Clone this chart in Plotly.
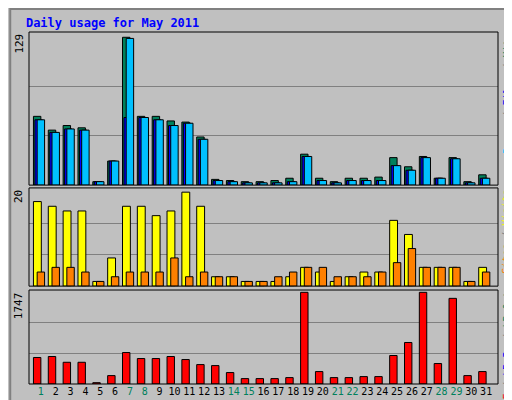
import plotly.graph_objects as go

days = list(range(1, 32))
weekend = [1, 7, 8, 14, 15, 21, 22, 28, 29]

hits = [60, 48, 52, 50, 3, 21, 129, 60, 60, 56, 55, 42, 5, 4, 3, 3, 4, 6, 27, 6, 3, 6, 6, 7, 24, 16, 25, 6, 24, 3, 9]
files = [57, 46, 49, 48, 3, 21, 59, 59, 57, 52, 54, 40, 4, 3, 2, 2, 2, 3, 25, 4, 2, 4, 4, 4, 17, 13, 24, 6, 23, 2, 6]
pages = [57, 46, 49, 48, 3, 21, 128, 59, 57, 52, 54, 40, 4, 3, 2, 2, 2, 3, 25, 4, 2, 4, 4, 4, 17, 13, 24, 6, 23, 2, 6]
visits = [18, 17, 16, 16, 1, 6, 17, 17, 15, 16, 20, 17, 2, 2, 1, 1, 1, 2, 4, 3, 1, 2, 3, 3, 14, 11, 4, 4, 4, 1, 4]
sites = [3, 4, 4, 3, 1, 2, 3, 3, 3, 6, 2, 3, 2, 2, 1, 1, 2, 3, 4, 4, 2, 2, 2, 3, 5, 8, 4, 4, 4, 1, 3]
kbytes = [505, 524, 414, 414, 25, 160, 600, 485, 485, 524, 466, 370, 351, 218, 103, 103, 103, 122, 1747, 237, 122, 122, 141, 141, 543, 791, 1747, 390, 1632, 160, 237]

font = "DejaVu Sans Mono"
line = dict(color="black", width=1)

fig = go.Figure()
fig.add_bar(x=days, y=hits, offset=-0.5, width=0.5, marker=dict(color="#00805C", line=line), yaxis="y3")
fig.add_bar(x=days, y=files, offset=-0.4, width=0.5, marker=dict(color="#0000FF", line=line), yaxis="y3")
fig.add_bar(x=days, y=pages, offset=-0.25, width=0.5, marker=dict(color="#00C0FF", line=line), yaxis="y3")
fig.add_bar(x=days, y=visits, offset=-0.5, width=0.53, marker=dict(color="#FFFF00", line=line), yaxis="y2")
fig.add_bar(x=days, y=sites, offset=-0.25, width=0.5, marker=dict(color="#FF8000", line=line), yaxis="y2")
fig.add_bar(x=days, y=kbytes, offset=-0.5, width=0.5, marker=dict(color="#FF0000", line=line), yaxis="y")

ticktext = [f"<span style='color:{'#00805C' if d in weekend else 'black'}'>{d}</span>" for d in days]

def yax(dom, top, mx):
    return dict(domain=dom, range=[0, top], tickvals=[mx / 3, 2 * mx / 3], showticklabels=False,
                gridcolor="#808080", gridwidth=1, zeroline=False, fixedrange=True, automargin=False)

fig.update_layout(
    width=512, height=400, showlegend=False, barmode="overlay",
    margin=dict(l=21, r=22, t=24, b=24),
    paper_bgcolor="#C0C0C0", plot_bgcolor="#C0C0C0",
    font=dict(family=font, size=11, color="black"),
    xaxis=dict(range=[0.2, 31.8], tickvals=days, ticktext=ticktext, ticks="", showgrid=False,
               zeroline=False, tickangle=0, automargin=False, tickfont=dict(size=10)),
    yaxis3=yax([0.565, 1], 133.6, 129),
    yaxis2=yax([0.278, 0.557], 20.9, 20),
    yaxis=yax([0, 0.267], 1791, 1747),
    title=dict(text="<b>Daily usage for May 2011</b>", x=0.035, y=0.962, xanchor="left", yanchor="middle",
               font=dict(family=font, size=12, color="#0000FF")),
)

shapes = []
for y0, y1 in [(0.565, 1), (0.278, 0.557), (0, 0.267)]:
    shapes.append(dict(type="rect", xref="paper", yref="paper", x0=0, x1=1, y0=y0, y1=y1,
                       line=dict(color="black", width=1)))
shapes.append(dict(type="rect", xref="paper", yref="paper", x0=-0.04, x1=1.042, y0=-0.065, y1=1.065,
                   line=dict(color="#808080", width=2)))
fig.update_layout(shapes=shapes)

anns = [
    (1.0, "129"), (0.557, "20"), (0.267, "1747"),
]
for y, t in anns:
    fig.add_annotation(x=-0.004, y=y, xref="paper", yref="paper", text=t, textangle=-90, showarrow=False,
                       xanchor="right", yanchor="top", font=dict(size=11))

right = [
    (1.0, "<span style='color:#00C0FF'>Pages</span> / <span style='color:#0000FF'>Files</span> / <span style='color:#00805C'>Hits</span>"),
    (0.557, "<span style='color:#FF8000'>Sites</span> / <span style='color:#FFFF00'>Visits</span>"),
    (0.267, "<span style='color:#FF0000'>kB F</span> / <span style='color:#0000FF'>kB In</span> / <span style='color:#00805C'>kB Out</span>"),
]
for y, t in right:
    fig.add_annotation(x=1.003, y=y, xref="paper", yref="paper", text=t, textangle=-90, showarrow=False,
                       xanchor="left", yanchor="top", font=dict(size=10, color="#808080"))

fig.write_html("out.html")
